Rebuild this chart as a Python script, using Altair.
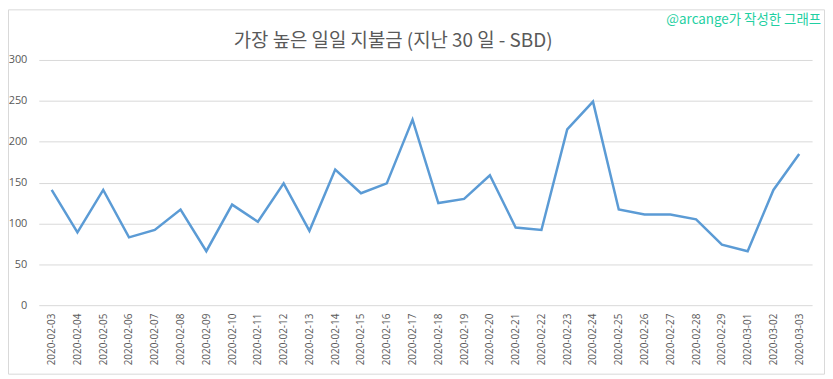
import altair as alt
import pandas as pd

dates = [
    "2020-02-03", "2020-02-04", "2020-02-05", "2020-02-06", "2020-02-07",
    "2020-02-08", "2020-02-09", "2020-02-10", "2020-02-11", "2020-02-12",
    "2020-02-13", "2020-02-14", "2020-02-15", "2020-02-16", "2020-02-17",
    "2020-02-18", "2020-02-19", "2020-02-20", "2020-02-21", "2020-02-22",
    "2020-02-23", "2020-02-24", "2020-02-25", "2020-02-26", "2020-02-27",
    "2020-02-28", "2020-02-29", "2020-03-01", "2020-03-02", "2020-03-03",
]
payouts = [
    141, 89, 141, 83, 92, 117, 66, 123, 102, 149,
    91, 166, 137, 149, 227, 125, 130, 159, 95, 92,
    215, 249, 117, 111, 111, 105, 74, 66, 141, 185,
]
y_ticks = [0, 50, 100, 150, 200, 250, 300]
title_text = "가장 높은 일일 지불금 (지난 30 일 - SBD)"
credit_text = "@arcange가 작성한 그래프"

W, H = 779, 247
PAD = {"left": 31, "top": 51, "right": 13, "bottom": 70}

df = pd.DataFrame({"date": dates, "sbd": payouts})
one = pd.DataFrame({"k": [0]})

line = alt.Chart(df).mark_line(color="#5b9bd5", strokeWidth=2.5).encode(
    x=alt.X(
        "date:O",
        sort=dates,
        scale=alt.Scale(type="point", padding=0.5),
        axis=alt.Axis(
            title=None, labelAngle=-90, ticks=False, domain=False,
            labelPadding=8, labelFontSize=10, labelColor="#595959",
            labelFont="Open Sans", grid=False,
        ),
    ),
    y=alt.Y(
        "sbd:Q",
        scale=alt.Scale(domain=[0, 300], nice=False),
        axis=alt.Axis(
            title=None, values=y_ticks, ticks=False, domain=False,
            labelPadding=12, labelFontSize=11, labelColor="#595959",
            labelFont="Open Sans", grid=True, gridColor="#d9d9d9",
            gridWidth=1,
        ),
    ),
)

border = alt.Chart(one).mark_rect(
    fill=None, stroke="#d9d9d9", strokeWidth=1
).encode(
    x=alt.value(-PAD["left"] + 0.5),
    x2=alt.value(W + PAD["right"] - 0.5),
    y=alt.value(-PAD["top"] + 0.5),
    y2=alt.value(H + PAD["bottom"] - 0.5),
)

title = alt.Chart(pd.DataFrame({"t": [title_text]})).mark_text(
    align="center", baseline="middle", fontSize=19, color="#595959",
    font="Noto Sans CJK KR",
).encode(
    text="t:N",
    x=alt.value(357),
    y=alt.value(-19),
)

credit = alt.Chart(pd.DataFrame({"t": [credit_text]})).mark_text(
    align="right", baseline="middle", fontSize=13.5, color="#1fd0a2",
    font="Noto Sans CJK KR",
).encode(
    text="t:N",
    x=alt.value(788),
    y=alt.value(-40),
)

chart = alt.layer(border, line, title, credit).properties(
    width=W,
    height=H,
    padding=PAD,
    autosize=alt.AutoSizeParams(type="none"),
).configure_view(stroke=None)

chart.save("out.html", embed_options={"renderer": "svg", "actions": False})
